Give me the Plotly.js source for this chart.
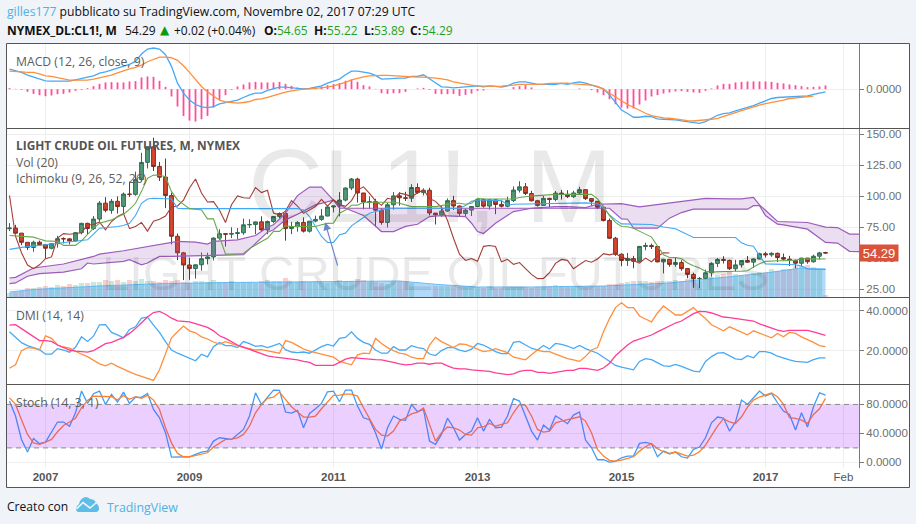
<!DOCTYPE html>
<html><head><meta charset="utf-8">
<script src="https://cdn.plot.ly/plotly-3.0.1.min.js"></script>
<style>html,body{margin:0;padding:0;background:#f0f3f7}#c{width:916px;height:524px}</style>
</head><body><div id="c"></div>
<script>
// months counted from Jan 2007 = 0; first candle Jul 2006, last Nov 2017
const firstMonth=-6;
const closes=[74.40,70.26,62.91,58.73,62.97,61.05,
58.14,61.79,65.87,65.71,64.01,70.68,78.21,74.04,81.66,94.53,88.71,95.98,
91.75,101.84,101.58,113.46,127.35,140.00,124.08,115.46,100.64,67.81,54.43,44.60,
41.68,44.76,49.66,51.12,66.31,69.89,69.45,69.96,70.61,77.00,77.28,79.36,
72.89,79.66,83.76,86.15,73.97,75.63,78.95,71.92,79.97,81.43,84.11,91.38,
92.19,96.97,106.72,113.93,102.70,95.42,95.70,88.81,78.93,93.19,100.36,98.83,
98.48,107.07,103.02,104.87,86.53,84.96,88.06,96.47,92.19,86.24,88.91,91.82,
97.49,92.05,97.23,93.46,91.97,96.56,105.03,107.65,102.33,96.38,92.72,98.42,
97.49,102.59,101.58,99.74,102.71,105.37,98.17,95.96,91.16,80.54,66.15,53.27,
48.24,49.76,47.60,59.63,60.30,59.47,47.12,49.20,45.09,46.59,41.65,37.04,
33.62,33.75,38.34,45.92,49.10,48.33,41.60,44.70,48.24,46.86,49.44,53.72,
52.81,54.01,50.60,49.33,48.32,46.04,50.17,47.23,51.67,54.38,54.29];
const opens=[73.9,74.4,70.3,62.9,58.7,63.0,
61.1,58.1,61.8,65.9,65.7,64.0,70.7,78.2,74.0,81.7,94.5,88.7,
96.0,91.8,101.8,101.6,113.5,127.4,140.0,124.1,115.5,100.6,67.8,54.4,
44.6,41.7,44.8,49.7,51.1,66.3,69.9,69.5,70.0,70.6,77.0,77.3,
79.4,72.9,79.7,83.8,86.2,74.0,75.6,79.0,71.9,80.0,81.4,84.1,
91.4,92.2,97.0,106.7,113.9,102.7,95.4,95.7,88.8,78.9,93.2,100.4,
98.8,98.5,107.1,103.0,104.9,86.5,85.0,88.1,96.5,92.2,86.2,88.9,
91.8,97.5,92.1,97.2,93.5,92.0,96.6,105.0,107.7,102.3,96.4,92.7,
98.4,97.5,102.6,101.6,99.7,102.7,105.4,98.2,96.0,91.2,80.5,66.2,
53.3,48.2,49.8,47.6,59.6,60.3,59.5,47.1,49.2,45.1,46.6,41.7,
37.0,33.6,33.8,38.3,45.9,49.1,48.3,41.6,44.7,48.2,46.9,49.4,
53.7,52.8,54.0,50.6,49.3,48.3,46.0,50.2,47.2,51.7,54.65];
const highs=[78.4,77.0,70.4,62.7,64.2,64.3,
61.0,62.2,68.1,66.9,66.1,70.1,78.7,78.7,84.1,96.2,99.3,97.9,
100.0,103.1,111.8,119.9,135.1,140.4,147.3,127.8,130.5,102.9,70.0,55.2,
50.5,44.9,54.7,54.5,66.9,73.4,69.9,75.0,74.4,82.0,81.5,79.7,
83.9,80.5,83.9,87.1,87.1,79.4,80.0,83.0,80.0,84.4,89.8,92.1,
92.6,103.4,107.0,114.8,115.0,102.4,100.0,98.0,90.5,94.6,103.4,103.3,
103.7,109.8,110.5,106.4,106.9,85.6,92.9,98.3,100.4,92.7,89.9,91.3,
98.2,98.2,97.3,97.8,97.2,99.7,108.0,112.2,110.7,104.4,97.2,100.7,
98.8,104.3,105.2,104.9,104.5,107.7,105.5,98.6,95.9,92.0,82.1,67.3,
54.0,54.3,52.0,59.9,62.6,61.8,59.7,49.6,49.3,50.9,48.4,42.0,
38.4,34.8,40.9,46.8,50.2,51.7,49.0,48.8,48.4,51.9,50.0,54.5,
55.2,54.9,54.7,53.8,52.0,49.0,50.4,50.2,52.9,55.2,55.22];
const lows=[72.0,69.9,60.6,56.6,55.3,60.0,
49.9,57.2,58.6,62.0,61.3,63.8,69.3,69.2,72.8,79.7,87.1,85.9,
86.1,86.1,99.5,100.5,112.2,122.5,120.4,112.4,90.5,61.3,48.5,32.4,
32.7,33.6,40.0,45.1,48.3,65.0,59.5,66.3,65.5,69.0,74.5,69.5,
71.8,69.5,78.3,82.5,64.2,69.5,71.5,70.8,70.8,79.0,80.3,83.9,
87.1,83.8,96.0,105.0,95.0,89.6,90.3,75.7,77.1,74.9,89.2,92.5,
96.2,95.4,102.0,100.7,84.6,77.3,83.4,87.5,89.0,84.1,84.1,84.1,
91.2,90.8,89.3,85.6,91.0,91.1,95.4,103.1,101.1,95.9,91.8,92.2,
91.2,96.0,97.4,98.6,98.7,101.6,97.0,92.5,89.7,79.8,65.7,52.0,
43.6,43.8,42.0,47.0,56.5,57.5,46.7,37.8,43.2,43.2,40.0,33.9,
26.1,26.0,33.3,35.2,43.0,45.8,40.6,39.2,42.5,46.6,42.2,49.9,
50.7,51.2,47.0,48.2,43.8,42.0,43.5,45.6,46.5,49.1,53.89];
const volumes=[4,5,6,9,9,10,
11,10,12,11,13,12,14,14,15,15,17,16,
17,15,17,16,18,16,16,15,17,16,17,15,
14,16,16,15,17,15,15,16,14,15,15,14,
16,17,16,16,19,15,15,16,15,16,15,14,
15,17,16,16,18,17,15,15,14,13,15,16,
15,14,0,0,0,11,11,11,11,10,10,10,
10,9,11,9,9,9,10,10,10,9,10,10,
11,12,11,10,11,11,10,10,11,11,13,13,
14,15,16,16,16,15,16,16,16,17,16,18,
19,16,18,20,22,23,25,23,22,23,24,25,
25,28,26,28,28,31,31,32,30,28,2];
const volMAx=[-6,-2,9,20,31,44,59,65,72,81,93,104,115,120,126,128,130];
const volMA=[5,7.5,11,13.5,14.5,15.5,16,12.7,10,10,11,14,21,24,29,28,28];

const macdLine=[20,18.7,16.7,14,12,10,8.3,8,8,7.3,8,9.3,11,12,13.3,16,17.3,19.3,21,23.3,24.7,27.7,35,40,41,40,34.3,22.7,6,-4,-10.7,-15.3,-17.7,-18.3,-17.3,-14.7,-13.3,-12,-11,-8.3,-5.7,-4,-4,-1.3,.7,2,2,1.7,.7,.3,.7,2,3.3,6,8,10,14.3,18,18,17,16,13.7,10,10.3,11,11,11,12.7,12.7,14.3,10.3,6.3,2.3,2,1.3,1.7,
2,2.3,3.3,2.3,3.3,2.7,2,3.3,6,7.3,7.3,6,4.7,4.7,4.7,4.7,5.7,4.7,6.3,7.3,6,4,2.7,.3,-5.7,-13,-20.7,-24.3,-28,-28,-27,-27.3,-29.7,-30,-30.3,-30.7,-31.7,-32.3,-33.3,-34,-32.3,-29,-26,-24.3,-23.7,-21.7,-20,-18.7,-16.3,-14,-11.7,-9.3,-8.3,-8,-8,-7.7,-7,-6.7,-5.3,-4,-2.7];
const macdSignal=[18,18,17.3,16.7,16.7,15.3,13.3,12.7,11.7,10,9,9,9,9,10,11.3,12.3,14,16.3,18.7,20.3,21.7,24,27.3,30,32,32,31.3,28.7,23.3,16.7,9.3,2.7,-2.7,-7.3,-11,-12.7,-13.7,-14,-13.3,-12.3,-10.3,-9.7,-8.3,-6.3,-4.7,-3,-1.7,-.7,0,.3,.7,1.3,2,3.3,4.7,6.7,9.3,11,12.3,13.3,13.7,13.7,13.7,13.3,12.7,12.3,12.3,12,12,11.7,11,10.3,9.3,
7.3,6,5,4,3.3,3,2.7,2.7,3,3.3,4,4.7,4.7,4.7,5,5,5.7,6,6,6,5.3,4.7,4.7,4,2.7,0,-4,-8,-12,-15.3,-18,-21.3,-24,-26.3,-27.7,-28.7,-29,-30,-31,-31.3,-31.7,-31.3,-31,-30,-29,-27.3,-25.3,-23.3,-21.3,-19.3,-17.7,-16,-14.3,-13.3,-12,-11,-9.3,-8.7,-8,-7.3,-7];
const macdHist=[1,.3,-.7,-2.7,-4.7,-6,-7,-6.3,-5,-4.7,-3.3,-1.7,-.7,1,3,5.3,6.7,7,6.7,6.7,7.7,8,11.7,12.7,12.3,8.3,2.3,-7.3,-17.3,-26.7,-31.3,-32.3,-30,-26.7,-18.3,-10.7,-6,-.7,2.7,4.7,6.7,7.3,6.7,6.7,6.7,7.3,5.3,3.3,1.7,.7,.3,1.7,2.7,4,5,6,8.3,9.3,7.3,4,2.7,.3,-4,-4.7,-4,-4,-2.7,0,.7,1.3,-.7,-4.7,-5,-5,-4.7,-6.7,
-5.7,-4.3,-1.7,-1.3,0,0,0,0,2,3,4,1.7,0,0,0,0,0,0,0,.7,0,-1,-3.3,-6,-10,-15,-18.3,-19.3,-19.3,-15.3,-11.3,-7.3,-6,-4.3,-3.3,-2.3,-2,-2.7,-3.3,-3.7,-1.7,.7,3.7,5.3,5.3,6.7,7.3,7.7,7.7,7.7,7.7,7.3,6.3,5.7,4.7,4,3,2,2.3,2.7,3.7];

const conversion=[68.4,68,67.6,67.3,67.1,65.5,
64.1,63.9,63.6,60.4,60.4,60.4,64.1,69,74.3,78.3,79.8,81,
83.3,85.6,89.5,94.4,104,114.5,117.2,117,115.9,103.8,97.1,93.5,
90.1,89.6,89,81.8,81.8,67.6,53.4,53.4,53.4,53.9,57.8,61,
63.5,66.1,71.7,71.7,76.3,75.7,75.7,75.7,75.7,75.7,77,78.2,
78.4,86.4,88.9,92.8,92.9,95.2,95.2,95.2,95.2,95.2,95.2,94.4,
93.1,91.7,91.7,91.7,91.7,91.7,92.5,93.6,94.4,94.4,93.6,94.4,
98.4,97.9,97.9,97.9,97.9,97.9,97.9,99,99.8,100.3,100.6,101.1,
101.6,101.6,101.6,101.6,101.6,101.6,101.6,101.6,97.9,91.7,84.5,79,
75.7,75.4,74.3,71.6,69.5,67.1,59.6,52.9,50.7,50.7,49.7,46.2,
44,42.2,39.5,38.7,39.2,39.5,39.5,39.5,39.5,40,43,45.6,
47.5,48,48,48,48,48.5,49.7,49.7,49.4,49.4,49.4];
const baseX=[-6,-4,0,6,7,8,9,12,13,14,15,16,17,18,20,21,22,23,42,43,44,45,46,47,48,49,50,51,52,53,54,57,69,70,71,72,76,77,78,90,92,93,94,95,96,101,103,105,108,115,116,117,118,119,120,125,126,127,130];
const baseLine=[57.2,58.8,60.9,64.1,64.9,69.5,74.3,75.7,76.5,78.3,84.5,94.4,97.9,98.4,98.4,97.9,90.4,90.1,90.1,89,83.7,76,67.6,62.8,62.8,69,70.3,76.2,79.5,82.5,86.4,90.4,90.4,92.5,96,97,96.5,93,93.6,94.7,94.2,90.4,85,81,77.8,77.3,75.2,73.8,66.8,66.8,62.5,60.5,59.8,52,45.5,44.8,43.7,41.5,41.1];
const laggingSpan=[100.64,67.81,54.43,44.60,
41.68,44.76,49.66,51.12,66.31,69.89,69.45,69.96,70.61,77.00,77.28,79.36,
72.89,79.66,83.76,86.15,73.97,75.63,78.95,71.92,79.97,81.43,84.11,91.38,
92.19,96.97,106.72,113.93,102.70,95.42,95.70,88.81,78.93,93.19,100.36,98.83,
98.48,107.07,103.02,104.87,86.53,84.96,88.06,96.47,92.19,86.24,88.91,91.82,
97.49,92.05,97.23,93.46,91.97,96.56,105.03,107.65,102.33,96.38,92.72,98.42,
97.49,102.59,101.58,99.74,102.71,105.37,98.17,95.96,91.16,80.54,66.15,53.27,
48.24,49.76,47.60,59.63,60.30,59.47,47.12,49.20,45.09,46.59,41.65,37.04,
33.62,33.75,38.34,45.92,49.10,48.33,41.60,44.70,48.24,46.86,49.44,53.72,
52.81,54.01,50.60,49.33,48.32,46.04,50.17,47.23,51.67,54.38,54.29];
const spanAx=[-6,-5,-2,3,8,9,13,17,20,22,25,27,28,32,35,37,38,40,42,44,46,48,50,53,56,58,60,62,64,66,70,71,72,73,75,77,78,81,85,87,90,92,96,99,103,108,110,114,116,118,119,122,127,130,132,134,136];
const spanA=[34.1,34.6,42.2,45.4,51.5,53.4,56.1,59.6,62.3,63.6,63.1,61.4,63.6,64.9,68.4,75.1,77,86.4,100.6,107.5,107.5,96.8,90.4,84.5,71.6,71.6,75.7,77.5,83.7,84.5,83.7,78.3,71.6,70,78.3,84.5,87.7,90.4,91.7,91.7,90.9,93.6,94.1,91.5,94.1,97.1,98.4,97.9,97.9,99.2,93.1,79.7,78.9,75.1,74.8,69.5,69.5];
const spanBx=[-6,-5,-3,-1,3,6,7,8,13,14,16,17,19,21,33,35,37,38,40,42,45,48,49,94,96,97,98,102,104,106,108,117,118,119,120,122,123,127,128,130,132,134,136];
const spanB=[29.6,30.1,35.5,37.6,38.9,41.6,46.2,45.4,47.5,48.9,44.8,46.2,51.5,51.5,52.9,62.3,71.1,73,81,85.6,93.1,96.8,90.4,90.4,81.8,81.5,74.3,74.3,82.4,86.9,89.6,89.6,92.5,92.5,84.5,77.5,77,73.5,70,62.8,62.3,55.6,55.3];

const dmiADX=[32.7,33,31,29,27,25,25,24.6,22.8,21.7,20.3,19.7,19.5,19.2,20,21.7,23.5,24.1,25.3,26.6,28.6,31,33.9,36.8,39,39.6,38.2,36.2,34.9,34.5,34.4,33.5,32.7,31.6,29.9,27.4,26.1,24.5,22.8,21.7,20.7,19.5,18.4,17.4,16.9,16.5,16.2,15.9,15.4,14.6,14.1,12.6,12.6,12.6,12.6,14.1,15.7,16.5,16.2,16,15.7,15.5,15.4,14.9,14.1,13.4,12.9,13.1,13.7,13.7,13.2,13.7,13.7,12.4,11.3,10.9,
10.9,10.4,10.1,10.1,9.6,8.9,8.4,8,8.4,9.6,10.1,10.1,9.1,9.1,8.6,9.1,9.6,10.1,10.1,11.1,11.1,10.6,10.1,11.3,13.7,17.4,20.3,22.8,24.8,25.9,26.8,27.8,29.4,30.9,32.5,33.8,34.8,36.5,38.5,39.6,39.5,38.8,37.7,36.8,36.5,36,35.5,35,34.8,33.4,32.2,31.2,30.2,29.6,30.1,30.1,30.1,30.1,29.4,28.6,27.6];
const dmiPlus=[29.4,26.6,24,22.5,21.5,20.5,18.2,18.2,21,20.3,19.2,21.7,26.9,24.6,27.2,32.9,33,29.1,27.9,26.4,30.6,31.9,36.2,36.7,32.7,29.1,24.5,20.3,18.7,17.4,16,14.9,18.2,16.9,22,24,22.5,22.5,21.5,24.5,23.5,22.1,22.5,21.5,22.5,23.6,20.5,19.3,19,19.3,18.7,20.3,22,23.1,22.3,26.1,26.6,29.4,26.1,24.1,23.1,20.3,18.7,18.7,22,20.3,20.3,22.5,21.5,21,18.3,17.5,20,21.5,21.5,20.3,
19.5,20.7,23.6,22.8,21.2,19.5,18.5,18.5,24.1,24.6,22.8,21.2,20.3,22.6,20.8,23.6,23.1,22.3,21,22.6,21,19.8,18.7,16.7,14.6,12.6,11.7,10.9,10.4,14.6,16,15.5,14.1,12.4,12.1,13.1,12.1,10.9,9.8,9.4,14.6,17,18.7,19,17.4,15.9,15.5,17.5,16.4,19.5,19.5,18.7,17.2,16.2,15.4,14.6,14.4,14.1,15.5,16.4,16.4];
const dmiMinus=[11.2,12.9,20,21.5,21.2,20.3,27.4,26.1,22.8,21.8,21.2,19.5,18.2,17,15.4,13.4,12.4,13.7,12.1,10.6,9.4,8.1,7,6,5.1,10.4,18.7,26.4,29.4,32.3,29.9,28.9,26.9,25.8,24.3,23.3,24.5,23.6,22.5,21.5,21,20.3,20.5,20,19.3,18.7,25,24.1,22.5,20.8,19.7,19,18.2,17.5,16.7,14.6,13.7,12.9,17.9,18.7,18.5,26.1,23.6,21.5,20,18.7,18.2,16.7,16,16,22.8,26.6,24.5,22.8,21.5,23.3,
23.1,22,20.7,19.5,20,21,20,19,16.7,15.9,15.4,17.9,20.3,19.5,19.5,18.2,17,16,15.4,14.6,17,20.3,21.5,29.4,36,41.5,43.9,41.5,41.5,37.3,35.8,34.4,38.8,42.3,40.1,37.8,37.8,39.5,41.5,38.5,36,32.9,31.4,29.9,31.9,30.6,29.1,27.9,29.9,28.6,27.6,26.4,28.6,26.9,29.1,28.6,26.9,25.6,24.1,22.5,22];

const stochK=[84.6,64,31.7,14.3,33,25.8,28,41,55.7,55.7,50,68.5,98.4,81.4,94.8,98.4,80,93.8,83.3,97,81.4,90,89.7,95,73,61.6,41,7.4,7.4,8.3,7.8,11,14.3,15.6,29.4,34,32.7,31.7,38.6,45.5,64,96,80,90.6,99.8,99.4,69.5,68,71.8,47.8,67.6,74,81.4,97.5,98.4,83.7,99.8,99.8,77.7,61.6,58.9,41,18.4,47.8,64,59.3,58,80,70,73,29.4,24.8,38.6,61,47.8,30.8,
38.6,43.2,61.6,43.2,59.3,47.8,48.8,64,87.9,84.6,64,43.2,30.8,51.5,44.6,64,59.3,53.4,65.3,69.5,30.8,20.2,3.7,3.7,.5,1.4,6.4,8.7,8.7,26.2,27.6,25.8,7.8,15.6,12,14.3,7.8,6,18,21.2,34,54.7,62.6,61.2,43.2,55.7,86,80,89.2,98.4,91.5,95.2,82.3,70.8,66.2,44.6,68.5,48.8,76.8,96,92.9];
const stochD=[89,80,59,38.6,27,24.8,28,31.7,42.3,51,55.7,61,75.4,85.6,91.5,91.5,90.6,90.6,86,92.5,87,90.6,88.3,92.5,86,73,47.8,27,12.4,7.8,7.8,9.7,10.6,13.3,21.2,27,31.7,32.2,34,38.6,50,68.5,80,88.3,90,97,87,76.8,69.5,62.6,62.6,64,74,83.3,92.5,92.9,94.3,94.3,91.5,75.4,60.3,45.5,37.7,36.3,43.2,57,61.6,67,69.5,75,52.4,29.4,41,48.8,47.8,44.6,
38.6,37.7,47.8,49.2,53.8,50,52.4,54.7,68.5,80,78.7,64,45.5,41.9,43.2,54.7,57,59.3,60.7,63,57,41,18,8.7,2.8,1.8,3.2,6,7.8,15.6,21.6,26.2,18.9,14.7,12,14.3,11.5,8.7,10,14.7,23.9,36.3,50,60.3,56,53.8,63,76.4,86,90.2,93.4,95.7,90.6,80,61.6,60.7,58.4,53.8,66.2,74,88.3];

const yearTicks=[0,24,48,72,96,120,133];
const yearLabels=['<b>2007</b>','<b>2009</b>','<b>2011</b>','<b>2013</b>','<b>2015</b>','<b>2017</b>','Feb'];

const months=closes.map((_,i)=>firstMonth+i);
const lagX=laggingSpan.map((_,i)=>firstMonth+i);
const BLUE='#46a9f5',ORANGE='#ff8f3d',PINK='#ff3d94',PURPLE='#9c5bbd';
const X=p=>(p-7)/852, Y=p=>(468-p)/425;
const ln=(x,y,ya,color,w,extra)=>Object.assign({type:'scatter',mode:'lines',x,y,yaxis:ya,line:{color,width:w||1.3},hoverinfo:'skip'},extra||{});

const traces=[
 {type:'bar',x:months,y:macdHist,yaxis:'y',width:.3,marker:{color:'#ff4d96',line:{width:0}},hoverinfo:'skip'},
 ln(months,macdLine,'y',BLUE),
 ln(months,macdSignal,'y',ORANGE),
 {type:'bar',x:months,y:volumes,yaxis:'y5',width:.86,marker:{color:closes.map((c,i)=>c>=opens[i]?'rgba(83,185,135,.32)':'rgba(235,105,95,.32)'),line:{width:0}},hoverinfo:'skip'},
 ln(volMAx,volMA,'y5','#4fb0f5',.8,{fill:'tozeroy',fillcolor:'rgba(70,165,240,.42)'}),
 ln(spanAx,spanA,'y2',PURPLE,1.2),
 ln(spanBx,spanB,'y2',PURPLE,1.2,{fill:'tonexty',fillcolor:'rgba(155,89,182,.2)'}),
 ln(lagX,laggingSpan,'y2','#a63d36',1.1),
 ln(baseX,baseLine,'y2','#3fa9f5',1.1),
 ln(months,conversion,'y2','#6aa84f',1.1),
 {type:'candlestick',x:months,open:opens,high:highs,low:lows,close:closes,yaxis:'y2',whiskerwidth:0,hoverinfo:'skip',
  increasing:{line:{color:'#2f6b50',width:1},fillcolor:'#4f9a78'},
  decreasing:{line:{color:'#7d2f20',width:1},fillcolor:'#d8452f'}},
 ln(months,dmiPlus,'y3','#46a9f5'),
 ln(months,dmiMinus,'y3',ORANGE),
 ln(months,dmiADX,'y3',PINK),
 ln(months,stochK,'y4','#3f9df5'),
 ln(months,stochD,'y4','#ff8030')
];

const GRID='#eeeeee',AX='#7a7a7a',TICK='#6f6f6f';
const yBase=(domain,range,tv,tt)=>({domain,range,side:'right',tickvals:tv,ticktext:tt,showgrid:true,gridcolor:GRID,zeroline:false,
 showline:true,linecolor:AX,linewidth:1,ticks:'outside',ticklen:4,tickcolor:AX,tickfont:{family:'Liberation Sans',size:11.5,color:TICK},anchor:'x',fixedrange:true});

const shapes=[
 {type:'rect',xref:'paper',yref:'paper',x0:X(6.5),x1:X(909.5),y0:Y(43.5),y1:Y(487.5),fillcolor:'#ffffff',line:{width:0},layer:'below'},
 {type:'rect',xref:'paper',yref:'paper',x0:X(6.5),x1:X(909.5),y0:Y(43.5),y1:Y(487.5),line:{color:'#555',width:1}},
 {type:'line',xref:'paper',yref:'paper',x0:X(6.5),x1:X(909.5),y0:Y(128.5),y1:Y(128.5),line:{color:'#555',width:1}},
 {type:'line',xref:'paper',yref:'paper',x0:X(6.5),x1:X(909.5),y0:Y(297.5),y1:Y(297.5),line:{color:'#555',width:1}},
 {type:'line',xref:'paper',yref:'paper',x0:X(6.5),x1:X(909.5),y0:Y(384.5),y1:Y(384.5),line:{color:'#555',width:1}},
 {type:'rect',xref:'paper',yref:'y4',x0:0,x1:1,y0:20,y1:80,fillcolor:'rgba(153,21,255,.2)',line:{width:0},layer:'above'},
 {type:'line',xref:'paper',yref:'y4',x0:0,x1:1,y0:80,y1:80,line:{color:'#8a8a8a',width:1,dash:'5px,4px'}},
 {type:'line',xref:'paper',yref:'y4',x0:0,x1:1,y0:20,y1:20,line:{color:'#8a8a8a',width:1,dash:'5px,4px'}},
];
const F='Open Sans';
const t=(px,py,text,size,color,o)=>Object.assign({xref:'paper',yref:'paper',x:X(px),y:Y(py),text,showarrow:false,xanchor:'left',yanchor:'middle',
  font:{family:F,size,color},borderpad:0},o||{});
const G='#1fa31f';
const annotations=[
 t(430,186,'CL1!, M',104,'rgba(0,0,0,.085)',{xanchor:'center',font:{family:'Liberation Sans',size:104,color:'rgba(0,0,0,.085)'}}),
 t(435,273,'LIGHT CRUDE OIL FUTURES',49,'rgba(0,0,0,.085)',{xanchor:'center',font:{family:'Liberation Sans',size:49,color:'rgba(0,0,0,.085)'}}),
 t(6,11,'<span style="color:#4db2e6">gilles177</span> pubblicato su TradingView.com, Novembre 02, 2017 07:29 UTC',12.2,'#111'),
 t(6,30,'<b>NYMEX_DL:CL1!, M</b>',12,'#111'),
 t(124,30,'54.29',12,'#111'),
 t(158.5,29.5,'▲',12,'#0a9a0a',{font:{family:'DejaVu Sans',size:12,color:'#0a9a0a'}}),
 t(173,30,'+0.02 (+0.04%)',12,'#111'),
 t(262.5,30,'<b>O:</b>',12,'#111'),t(276,30,'54.65',12,G),
 t(312.5,30,'<b>H:</b>',12,'#111'),t(326,30,'55.22',12,G),
 t(362.5,30,'<b>L:</b>',12,'#111'),t(373,30,'53.89',12,G),
 t(409,30,'<b>C:</b>',12,'#111'),t(421,30,'54.29',12,G),
 t(15,61,'MACD (12, 26, close, 9)',12.2,'#5c5c5c'),
 t(15,145,'<b>LIGHT CRUDE OIL FUTURES, M, NYMEX</b>',11.9,'#555'),
 t(15,162,'Vol (20)',12.2,'#5c5c5c'),
 t(15,179,'Ichimoku (9, 26, 52, 26)',12.2,'#5c5c5c'),
 t(15,315,'DMI (14, 14)',12.2,'#5c5c5c'),
 t(15,402,'Stoch (14, 3, 1)',12.2,'#5c5c5c'),
 t(6,506,'Creato con',12.1,'#111'),
 t(106,507,'TradingView',12.4,'#4db2e6'),
 {xref:'x',yref:'y2',x:46.6,y:79,axref:'x',ayref:'y2',ax:48.75,ay:42.9,text:'',showarrow:true,arrowhead:2,arrowsize:1.3,arrowwidth:1.2,arrowcolor:'#6c87c9'},
 {xref:'paper',yref:'y2',x:X(858.5),xanchor:'left',y:54.29,yanchor:'middle',text:'54.29',showarrow:false,bgcolor:'#d9533a',width:37,height:15,
  font:{family:'Liberation Sans',size:13,color:'#fff'},borderpad:0.5}
];
// TradingView logo: cloud with a white zigzag
const logoPath=pts=>'M'+pts.map(p=>X(p[0]).toFixed(5)+','+Y(p[1]).toFixed(5)).join('L');
shapes.push({type:'path',xref:'paper',yref:'paper',path:logoPath([[76,509],[77,506],[79,504],[80,501],[82,498.5],[85,497],[88,497.5],[90,499],[93,499.5],[95,501],[96,503],[98,505],[99,507.5],[99,510],[97,512],[78,512],[76.5,511]])+'Z',fillcolor:'#5cbde8',line:{width:0}});
shapes.push({type:'path',xref:'paper',yref:'paper',path:logoPath([[76.5,509],[83,502.5],[90,508],[96.5,502.5]]),line:{color:'#f0f3f7',width:1.6}});

const layout={width:916,height:524,margin:{l:7,r:57,t:43,b:56},paper_bgcolor:'#f0f3f7',plot_bgcolor:'rgba(0,0,0,0)',
 showlegend:false,hovermode:false,barmode:'overlay',boxgap:.1,
 xaxis:{range:[-6.417,135.583],type:'linear',tickvals:yearTicks,ticktext:yearLabels,showgrid:true,gridcolor:GRID,zeroline:false,
   showline:false,ticks:'',tickfont:{family:'Liberation Sans',size:11.5,color:'#555'},anchor:'y4',rangeslider:{visible:false},fixedrange:true},
 yaxis:yBase([.8,1],[-38.7,46],[0],['0.0000']),
 yaxis5:{domain:[.4024,.7976],range:[0,168],showticklabels:false,showgrid:false,zeroline:false,side:'left',ticks:'',anchor:'x',fixedrange:true},
 yaxis2:Object.assign(yBase([.4024,.7976],[18.8,154.3],[25,50,75,100,125,150],['25.00','50.00','75.00','100.00','125.00','150.00']),{overlaying:'y5'}),
 yaxis3:yBase([.1976,.4],[3.3,46.3],[20,40],['20.0000','40.0000']),
 yaxis4:yBase([0,.1953],[-7.7,106.8],[0,40,80],['0.0000','40.0000','80.0000']),
 shapes,annotations};
Plotly.newPlot('c',traces,layout,{displayModeBar:false,staticPlot:true});
</script></body></html>
